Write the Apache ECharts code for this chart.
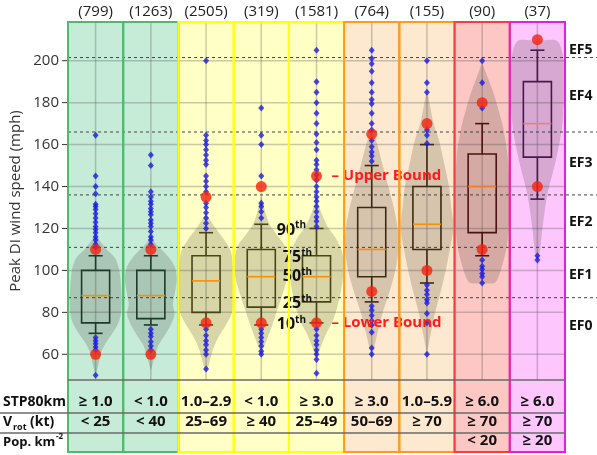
<!DOCTYPE html>
<html><head><meta charset="utf-8">
<script src="https://cdn.jsdelivr.net/npm/echarts@6/dist/echarts.min.js"></script>
<style>html,body{margin:0;padding:0;background:#fff}#c{width:597px;height:455px}</style>
</head><body><div id="c"></div>
<script>
// ---------------- DATA ----------------
const categories = ['A','B','C','D','E','F','G','H','I'];
const counts = ['(799)','(1263)','(2505)','(319)','(1581)','(764)','(155)','(90)','(37)'];
const p10    = [70, 74, 74, 74, 75, 85, 94, 107, 134];
const q1     = [75, 77, 80, 82.5, 85, 97, 110, 118, 154];
const median = [88, 88, 95, 97, 97, 110, 122, 140, 170];
const q3     = [100, 100, 107, 110, 107, 130, 140, 155.5, 190];
const p90    = [107, 107, 118, 122, 120, 150, 160, 170, 205];
const lowerBound = [60, 60, 75, 75, 75, 90, 100, 110, 140];
const upperBound = [110, 110, 135, 140, 145, 165, 170, 180, 210];
const outliers = [
  [164.5,145,140,136.5,131.5,130.5,129,127,125,123,121,119.5,118,116,114.5,112.5,111,68,66.5,65,63.5,62,50],
  [155,150,137.5,135,133,131.5,129.5,128,126.5,124,122.5,121,118.5,116,114.5,112.5,72,70,68.5,66,64,62],
  [200,164.5,162,160,157.5,155,152.5,150.5,145,142.5,140,137.5,132,130,127.5,125,122.5,120,72,69,66.5,64.5,62,60,53],
  [177.5,164.5,160,145,132,130.5,128,125,72,70,68,66,64,61.5,60],
  [205,190,185,180,175,170,165,161,157.5,152.5,150.5,148,145.5,143,140,137.5,135,133,130.5,128,125.5,123.5,121,72,69,66.5,64.5,62,60,57.5,51],
  [205,201,198.5,195,189.5,185,181.5,179.5,175,170,167,162,159,156.5,154.5,152,83,81,78.5,76,74,70.5,63,60],
  [200,189.5,185,167,164.5,160.5,93,90.5,88.5,86,84.5,79.5,75,60],
  [200,189.5,177.5,105,102,100.5,98.5,97,94],
  [107,105]
];
// violin outlines: [value, half width as share of the category band]
const violins = [
  [[118,0],[114,0.08],[110,0.2],[106,0.35],[100,0.43],[92,0.46],[84,0.47],[77,0.44],[71,0.33],[66,0.2],[61,0.1],[55,0.05],[50,0]],
  [[117,0],[113,0.08],[108,0.27],[102,0.43],[96,0.47],[90,0.44],[84,0.4],[79,0.43],[74,0.36],[69,0.25],[64,0.13],[58,0.06],[52,0]],
  [[127,0],[121,0.15],[115,0.32],[109,0.45],[100,0.49],[90,0.49],[80,0.47],[74,0.36],[68,0.22],[62,0.12],[56,0.06],[51,0]],
  [[136,0],[128,0.07],[122,0.15],[117,0.28],[112,0.42],[106,0.48],[98,0.48],[90,0.4],[82,0.3],[74,0.2],[67,0.1],[60,0]],
  [[135,0],[128,0.08],[121,0.2],[115,0.36],[108,0.47],[100,0.49],[90,0.44],[82,0.37],[75,0.28],[69,0.16],[63,0.07],[58,0]],
  [[168,0],[160,0.1],[150,0.2],[140,0.3],[130,0.4],[120,0.47],[112,0.49],[103,0.45],[95,0.38],[88,0.3],[80,0.2],[72,0.12],[64,0.05],[58,0]],
  [[187,0],[178,0.06],[170,0.12],[162,0.22],[150,0.32],[140,0.4],[130,0.44],[121,0.48],[112,0.43],[100,0.34],[90,0.25],[80,0.15],[70,0.07],[60,0]],
  [[199,0],[192,0.1],[185,0.2],[178,0.28],[168,0.38],[155,0.46],[140,0.49],[125,0.49],[112,0.45],[102,0.36],[96,0.28],[94,0.22],[93.8,0]],
  [[209.5,0],[209.4,0.36],[200,0.48],[190,0.5],[180,0.48],[167,0.44],[152,0.33],[136,0.18],[120,0.09],[110,0.05],[104,0]]
];
const yTicks = [60, 80, 100, 120, 140, 160, 180, 200];
const efThresholds = [87, 111, 136, 166, 201.5];
const efNames = ['EF0','EF1','EF2','EF3','EF4','EF5'];
const efLabelValues = [73.5, 98, 123, 151, 183, 205];
const stpRow  = ['≥ 1.0','< 1.0','1.0–2.9','< 1.0','≥ 3.0','≥ 3.0','1.0–5.9','≥ 6.0','≥ 6.0'];
const vrotRow = ['< 25','< 40','25–69','≥ 40','25–49','50–69','≥ 70','≥ 70','≥ 70'];
const popRow  = ['','','','','','','','< 20','≥ 20'];
const percentileNames = ['90','75','50','25','10'];
const annotatedCat = 4;
const yMin = 47.75, yMax = 218.45;

// ---------------- STYLE ----------------
const groupOf = [0,0,1,1,1,2,2,3,4];
const bgColors = ['#c6ecd8','#ffffc6','#fde9cf','#fdc8c4','#fdc6fd'];
const borderColors = ['#4cbb6c','#ffff10','#ff9a1a','#ff3a3a','#e020e0'];
const boxColors = ['#1e3a2a','#4a4418','#3f2a12','#4a1414','#4a1848'];
const medianColors = ['#f5900a','#f5900a','#f5900a','#f08030','#f08070'];
const FONT = "'Open Sans', sans-serif";
const TABLE_BOTTOM = 452;

const chart = echarts.init(document.getElementById('c'), null, {renderer:'canvas'});
const catData = categories.map((c,i)=>[i, yMin]);

function bgItem(params, api){
  const i = api.value(0);
  const top = api.coord([i, yMax]);
  const bot = api.coord([i, yMin]);
  const bw = api.size([1,0])[0];
  const g = groupOf[i];
  return {type:'group', children:[
    {type:'rect', shape:{x:top[0]-bw/2, y:top[1], width:bw, height:TABLE_BOTTOM-top[1]}, style:{fill:bgColors[g]}},
    {type:'line', shape:{x1:top[0], y1:top[1], x2:top[0], y2:bot[1]}, style:{stroke:'rgba(70,70,70,0.28)', lineWidth:1.5}},
    {type:'text', style:{text:counts[i], x:top[0], y:12, align:'center', verticalAlign:'middle', font:'15px '+FONT, fill:'#222'}}
  ]};
}
function hGridItem(params, api){
  const cs = params.coordSys;
  const p = api.coord([0, api.value(1)]);
  return {type:'group', children:[
    {type:'line', shape:{x1:cs.x, y1:p[1], x2:cs.x+cs.width, y2:p[1]}, style:{stroke:'rgba(70,70,70,0.28)', lineWidth:1.5}},
    {type:'line', shape:{x1:cs.x-6, y1:p[1], x2:cs.x, y2:p[1]}, style:{stroke:'#333', lineWidth:1}},
    {type:'text', style:{text:String(api.value(1)), x:cs.x-9, y:p[1], align:'right', verticalAlign:'middle', font:'15px '+FONT, fill:'#333'}}
  ]};
}
function efLineItem(params, api){
  const cs = params.coordSys;
  const p = api.coord([0, api.value(1)]);
  return {type:'line', shape:{x1:cs.x, y1:p[1], x2:api.getWidth(), y2:p[1]}, style:{stroke:'#444', lineWidth:1, lineDash:[3,3]}};
}
function efLabelItem(params, api){
  const cs = params.coordSys;
  const p = api.coord([0, api.value(1)]);
  return {type:'text', style:{text:efNames[params.dataIndex], x:cs.x+cs.width+4, y:p[1], align:'left', verticalAlign:'middle', font:'bold 14px '+FONT, fill:'#111'}};
}
function violinItem(params, api){
  const i = api.value(0);
  const bw = api.size([1,0])[0];
  const prof = violins[i];
  const right = prof.map(([v,w])=>{const p=api.coord([i,v]); return [p[0]+w*bw, p[1]];});
  const left = prof.slice().reverse().map(([v,w])=>{const p=api.coord([i,v]); return [p[0]-w*bw, p[1]];});
  return {type:'polygon', shape:{points:right.concat(left), smooth:0.3}, style:{fill:'rgba(60,50,40,0.2)'}};
}
function boxItem(params, api){
  const i = api.value(0);
  const bw = api.size([1,0])[0];
  const c = api.coord([i, median[i]])[0];
  const y = v => api.coord([i, v])[1];
  const hb = bw*0.254, hc = bw*0.127;
  const g = groupOf[i];
  const st = {stroke:boxColors[g], lineWidth:1.6, fill:null};
  return {type:'group', children:[
    {type:'line', shape:{x1:c, y1:y(q3[i]), x2:c, y2:y(p90[i])}, style:st},
    {type:'line', shape:{x1:c, y1:y(q1[i]), x2:c, y2:y(p10[i])}, style:st},
    {type:'line', shape:{x1:c-hc, y1:y(p90[i]), x2:c+hc, y2:y(p90[i])}, style:st},
    {type:'line', shape:{x1:c-hc, y1:y(p10[i]), x2:c+hc, y2:y(p10[i])}, style:st},
    {type:'rect', shape:{x:c-hb, y:y(q3[i]), width:2*hb, height:y(q1[i])-y(q3[i])}, style:st},
    {type:'line', shape:{x1:c-hb, y1:y(median[i]), x2:c+hb, y2:y(median[i])}, style:{stroke:medianColors[g], lineWidth:1.6}}
  ]};
}
function borderItem(params, api){
  const i = api.value(0);
  const top = api.coord([i, yMax]);
  const bw = api.size([1,0])[0];
  return {type:'rect', shape:{x:top[0]-bw/2, y:top[1], width:bw, height:TABLE_BOTTOM-top[1]}, style:{fill:null, stroke:borderColors[groupOf[i]], lineWidth:2}};
}
function tableItem(params, api){
  const i = api.value(0);
  const bot = api.coord([i, yMin]);
  const f = 'bold 15px '+FONT;
  const mk = (t, dy) => ({type:'text', style:{text:t, x:bot[0], y:bot[1]+dy, align:'center', verticalAlign:'middle', font:f, fill:'#111'}});
  return {type:'group', children:[mk(stpRow[i], 22), mk(vrotRow[i], 42), mk(popRow[i], 61)]};
}
const annotVals = [p90[annotatedCat], q3[annotatedCat], median[annotatedCat], q1[annotatedCat], p10[annotatedCat]];
function annotItem(params, api){
  const k = params.dataIndex;
  const p = api.coord([annotatedCat, api.value(1)]);
  const bw = api.size([1,0])[0];
  const dx = (k===0||k===4) ? bw*0.19 : bw*0.08;
  return {type:'text', style:{
    text:'{n|'+percentileNames[k]+'}{s|th}', x:p[0]-dx, y:p[1]+(k===2?-2:0), align:'right', verticalAlign:'middle',
    rich:{n:{font:'bold 16px '+FONT, fill:'#111', padding:[4,0,0,0]}, s:{font:'bold 10px '+FONT, fill:'#111', padding:[0,0,6,0]}}
  }};
}
function boundTextItem(params, api){
  const p = api.coord([annotatedCat, api.value(1)]);
  const bw = api.size([1,0])[0];
  return {type:'text', style:{text:params.dataIndex===0?'– Upper Bound':'– Lower Bound', x:p[0]+bw*0.27, y:p[1], align:'left', verticalAlign:'middle', font:'bold 15px '+FONT, fill:'#ff1a1a'}};
}

const outlierData = [];
outliers.forEach((arr,i)=>arr.forEach(v=>outlierData.push([i,v])));
const boundData = [];
lowerBound.forEach((v,i)=>boundData.push([i,v]));
upperBound.forEach((v,i)=>boundData.push([i,v]));

const option = {
  animation:false,
  backgroundColor:'#fff',
  grid:{left:68, right:32, top:22, bottom:75, containLabel:false, outerBoundsMode:'none'},
  xAxis:{type:'category', data:categories, boundaryGap:true, axisLine:{show:false}, axisTick:{show:false}, axisLabel:{show:false}, splitLine:{show:false}},
  yAxis:{type:'value', min:yMin, max:yMax, axisLine:{show:false}, axisTick:{show:false}, axisLabel:{show:false}, splitLine:{show:false},
    name:'Peak DI wind speed (mph)', nameLocation:'middle', nameGap:45, nameTextStyle:{fontSize:15, color:'#333', fontFamily:FONT}},
  series:[
    {type:'custom', z:1, silent:true, data:catData, encode:{x:0,y:1}, renderItem:bgItem},
    {type:'custom', z:2, silent:true, data:yTicks.map(v=>[0,v]), encode:{x:0,y:1}, renderItem:hGridItem},
    {type:'custom', z:3, silent:true, data:efThresholds.map(v=>[0,v]), encode:{x:0,y:1}, renderItem:efLineItem},
    {type:'custom', z:3, silent:true, data:efLabelValues.map(v=>[0,v]), encode:{x:0,y:1}, renderItem:efLabelItem},
    {type:'custom', z:4, silent:true, data:categories.map((c,i)=>[i,median[i]]), encode:{x:0,y:1}, renderItem:violinItem},
    {type:'custom', z:5, silent:true, data:categories.map((c,i)=>[i,median[i]]), encode:{x:0,y:1}, renderItem:boxItem},
    {type:'scatter', z:6, silent:true, data:outlierData, symbol:'diamond', symbolSize:[6,7], itemStyle:{color:'#1a1ae6'}},
    {type:'scatter', z:7, silent:true, data:boundData, symbol:'circle', symbolSize:11, itemStyle:{color:'#f8200c'}},
    {type:'custom', z:8, silent:true, data:annotVals.map(v=>[annotatedCat,v]), encode:{x:0,y:1}, renderItem:annotItem},
    {type:'custom', z:8, silent:true, data:[[annotatedCat, upperBound[annotatedCat]],[annotatedCat, lowerBound[annotatedCat]]], encode:{x:0,y:1}, renderItem:boundTextItem},
    {type:'custom', z:9, silent:true, data:catData, encode:{x:0,y:1}, renderItem:borderItem},
    {type:'custom', z:9, silent:true, data:catData, encode:{x:0,y:1}, renderItem:tableItem}
  ],
  graphic:[
    {type:'line', z:100, shape:{x1:68, y1:380, x2:565, y2:380}, style:{stroke:'#6a6a6a', lineWidth:1.5}},
    {type:'line', z:100, shape:{x1:0, y1:413, x2:565, y2:413}, style:{stroke:'#6a6a6a', lineWidth:1.5}},
    {type:'line', z:100, shape:{x1:0, y1:433, x2:565, y2:433}, style:{stroke:'#6a6a6a', lineWidth:1.5}},
    {type:'text', z:100, x:3, y:402, style:{text:'STP80km', font:'bold 14px '+FONT, fill:'#111', verticalAlign:'middle'}},
    {type:'text', z:100, x:3, y:422, style:{text:'V', font:'bold 14px '+FONT, fill:'#111', verticalAlign:'middle'}},
    {type:'text', z:100, x:13, y:427, style:{text:'rot', font:'bold 9px '+FONT, fill:'#111', verticalAlign:'middle'}},
    {type:'text', z:100, x:30, y:422, style:{text:'(kt)', font:'bold 14px '+FONT, fill:'#111', verticalAlign:'middle'}},
    {type:'text', z:100, x:3, y:442, style:{text:'Pop. km', font:'bold 13px '+FONT, fill:'#111', verticalAlign:'middle'}},
    {type:'text', z:100, x:56, y:437, style:{text:'-2', font:'bold 8px '+FONT, fill:'#111', verticalAlign:'middle'}}
  ]
};
chart.setOption(option);
</script></body></html>
